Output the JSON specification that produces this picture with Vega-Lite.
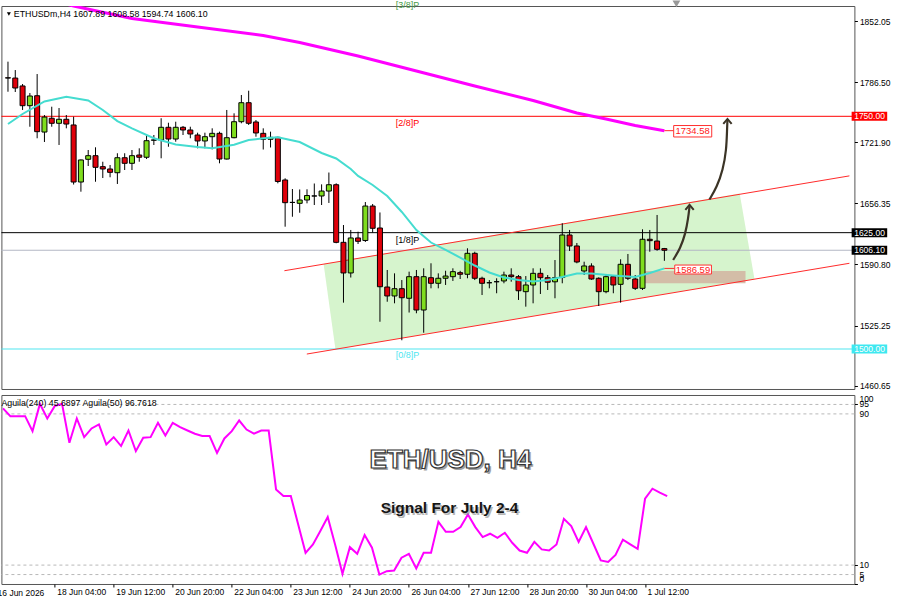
{
"$schema": "https://vega.github.io/schema/vega-lite/v6.json",
"background": "white",
"padding": {"left": -3.6, "top": 0, "right": 0, "bottom": 0},
"spacing": 3,
"config": {"view": {"stroke": "#555", "strokeWidth": 1}, "font": "Liberation Sans", "axis": {"labelFont": "Liberation Sans", "labelOverlap": false}},
"datasets": {
"candles": [
{"t":"2026-06-17T00:00Z","o":1791.4,"h":1808.7,"l":1776.4,"c":1791.1,"v":92.9},
{"t":"2026-06-17T04:00Z","o":1791.1,"h":1799.7,"l":1776.1,"c":1780.4,"v":88.8},
{"t":"2026-06-17T08:00Z","o":1782.6,"h":1784.7,"l":1756.8,"c":1761.4,"v":88.8},
{"t":"2026-06-17T12:00Z","o":1761.4,"h":1775.0,"l":1738.8,"c":1771.8,"v":88.8},
{"t":"2026-06-17T16:00Z","o":1772.1,"h":1795.4,"l":1726.4,"c":1733.5,"v":80.9},
{"t":"2026-06-17T20:00Z","o":1733.1,"h":1751.4,"l":1722.4,"c":1749.2,"v":95.3},
{"t":"2026-06-18T00:00Z","o":1747.9,"h":1760.3,"l":1738.8,"c":1742.5,"v":87.6},
{"t":"2026-06-18T04:00Z","o":1742.5,"h":1758.9,"l":1719.2,"c":1746.8,"v":94.1},
{"t":"2026-06-18T08:00Z","o":1746.8,"h":1751.4,"l":1737.1,"c":1741.7,"v":95.3},
{"t":"2026-06-18T12:00Z","o":1740.7,"h":1749.6,"l":1676.7,"c":1679.4,"v":74.7},
{"t":"2026-06-18T16:00Z","o":1679.4,"h":1703.5,"l":1669.0,"c":1703.1,"v":87.6},
{"t":"2026-06-18T20:00Z","o":1703.8,"h":1713.8,"l":1696.6,"c":1707.7,"v":77.7},
{"t":"2026-06-19T00:00Z","o":1707.7,"h":1716.7,"l":1679.7,"c":1695.2,"v":82.3},
{"t":"2026-06-19T04:00Z","o":1695.9,"h":1701.2,"l":1683.7,"c":1693.4,"v":84.4},
{"t":"2026-06-19T08:00Z","o":1693.4,"h":1697.7,"l":1684.5,"c":1689.8,"v":73.8},
{"t":"2026-06-19T12:00Z","o":1689.4,"h":1710.3,"l":1677.3,"c":1705.5,"v":77.7},
{"t":"2026-06-19T16:00Z","o":1705.5,"h":1710.3,"l":1692.3,"c":1699.5,"v":73.0},
{"t":"2026-06-19T20:00Z","o":1699.5,"h":1713.8,"l":1692.3,"c":1707.7,"v":81.2},
{"t":"2026-06-20T00:00Z","o":1708.4,"h":1715.6,"l":1701.2,"c":1706.0,"v":70.3},
{"t":"2026-06-20T04:00Z","o":1706.0,"h":1729.9,"l":1704.1,"c":1723.8,"v":77.4},
{"t":"2026-06-20T08:00Z","o":1724.3,"h":1729.9,"l":1719.2,"c":1724.6,"v":77.7},
{"t":"2026-06-20T12:00Z","o":1724.5,"h":1747.9,"l":1704.9,"c":1738.2,"v":85.3},
{"t":"2026-06-20T16:00Z","o":1738.2,"h":1743.1,"l":1717.3,"c":1725.6,"v":78.6},
{"t":"2026-06-20T20:00Z","o":1725.6,"h":1744.2,"l":1722.7,"c":1738.2,"v":85.3},
{"t":"2026-06-21T00:00Z","o":1738.2,"h":1739.6,"l":1729.9,"c":1735.3,"v":83.0},
{"t":"2026-06-21T04:00Z","o":1735.3,"h":1738.8,"l":1726.4,"c":1731.0,"v":81.2},
{"t":"2026-06-21T08:00Z","o":1729.9,"h":1732.4,"l":1715.6,"c":1723.5,"v":79.5},
{"t":"2026-06-21T12:00Z","o":1723.5,"h":1732.4,"l":1715.6,"c":1728.1,"v":78.3},
{"t":"2026-06-21T16:00Z","o":1728.1,"h":1737.1,"l":1714.5,"c":1731.7,"v":78.3},
{"t":"2026-06-21T20:00Z","o":1731.7,"h":1733.5,"l":1699.5,"c":1704.1,"v":69.4},
{"t":"2026-06-22T00:00Z","o":1704.1,"h":1756.8,"l":1703.6,"c":1727.0,"v":77.0},
{"t":"2026-06-22T04:00Z","o":1727.0,"h":1753.2,"l":1726.4,"c":1744.2,"v":80.9},
{"t":"2026-06-22T08:00Z","o":1744.2,"h":1772.9,"l":1742.5,"c":1764.6,"v":86.5},
{"t":"2026-06-22T12:00Z","o":1764.6,"h":1777.5,"l":1740.7,"c":1742.5,"v":81.7},
{"t":"2026-06-22T16:00Z","o":1743.9,"h":1746.0,"l":1728.1,"c":1732.1,"v":79.5},
{"t":"2026-06-22T20:00Z","o":1731.7,"h":1737.1,"l":1714.3,"c":1725.3,"v":81.2},
{"t":"2026-06-23T00:00Z","o":1725.3,"h":1733.5,"l":1716.5,"c":1727.4,"v":81.2},
{"t":"2026-06-23T04:00Z","o":1727.4,"h":1728.1,"l":1678.0,"c":1680.0,"v":50.0},
{"t":"2026-06-23T08:00Z","o":1681.6,"h":1683.4,"l":1631.4,"c":1657.2,"v":46.5},
{"t":"2026-06-23T12:00Z","o":1657.5,"h":1671.9,"l":1642.1,"c":1657.5,"v":46.5},
{"t":"2026-06-23T16:00Z","o":1656.5,"h":1671.4,"l":1646.4,"c":1660.1,"v":31.5},
{"t":"2026-06-23T20:00Z","o":1660.1,"h":1671.6,"l":1656.5,"c":1664.9,"v":16.5},
{"t":"2026-06-24T00:00Z","o":1664.4,"h":1677.8,"l":1654.7,"c":1664.4,"v":20.9},
{"t":"2026-06-24T04:00Z","o":1664.4,"h":1676.9,"l":1654.7,"c":1669.7,"v":28.0},
{"t":"2026-06-24T08:00Z","o":1669.7,"h":1689.6,"l":1656.9,"c":1676.5,"v":35.4},
{"t":"2026-06-24T12:00Z","o":1676.5,"h":1678.0,"l":1613.6,"c":1614.6,"v":20.9},
{"t":"2026-06-24T16:00Z","o":1614.6,"h":1633.2,"l":1549.8,"c":1581.7,"v":5.4},
{"t":"2026-06-24T20:00Z","o":1581.7,"h":1627.9,"l":1576.8,"c":1619.3,"v":19.5},
{"t":"2026-06-25T00:00Z","o":1619.3,"h":1626.0,"l":1612.8,"c":1615.7,"v":16.0},
{"t":"2026-06-25T04:00Z","o":1616.6,"h":1657.9,"l":1615.0,"c":1653.6,"v":25.9},
{"t":"2026-06-25T08:00Z","o":1653.6,"h":1655.8,"l":1625.0,"c":1629.7,"v":19.2},
{"t":"2026-06-25T12:00Z","o":1630.0,"h":1646.7,"l":1529.3,"c":1566.9,"v":5.0},
{"t":"2026-06-25T16:00Z","o":1566.6,"h":1584.9,"l":1550.8,"c":1557.0,"v":6.8},
{"t":"2026-06-25T20:00Z","o":1557.0,"h":1581.3,"l":1549.1,"c":1564.8,"v":7.1},
{"t":"2026-06-26T00:00Z","o":1564.8,"h":1574.1,"l":1509.4,"c":1555.1,"v":13.9},
{"t":"2026-06-26T04:00Z","o":1554.5,"h":1583.1,"l":1539.2,"c":1577.7,"v":16.0},
{"t":"2026-06-26T08:00Z","o":1577.7,"h":1584.9,"l":1538.4,"c":1541.9,"v":8.2},
{"t":"2026-06-26T12:00Z","o":1541.9,"h":1586.7,"l":1517.5,"c":1577.7,"v":16.5},
{"t":"2026-06-26T16:00Z","o":1576.6,"h":1592.1,"l":1565.2,"c":1570.6,"v":16.5},
{"t":"2026-06-26T20:00Z","o":1570.6,"h":1581.3,"l":1565.2,"c":1576.0,"v":32.9},
{"t":"2026-06-27T00:00Z","o":1576.0,"h":1584.1,"l":1568.8,"c":1578.4,"v":27.6},
{"t":"2026-06-27T04:00Z","o":1577.7,"h":1586.7,"l":1573.1,"c":1583.1,"v":27.6},
{"t":"2026-06-27T08:00Z","o":1582.0,"h":1584.0,"l":1575.2,"c":1580.3,"v":30.1},
{"t":"2026-06-27T12:00Z","o":1580.3,"h":1608.2,"l":1576.0,"c":1602.8,"v":36.8},
{"t":"2026-06-27T16:00Z","o":1602.8,"h":1604.5,"l":1574.1,"c":1576.0,"v":30.1},
{"t":"2026-06-27T20:00Z","o":1576.0,"h":1577.7,"l":1558.0,"c":1570.6,"v":24.8},
{"t":"2026-06-28T00:00Z","o":1571.2,"h":1574.1,"l":1565.2,"c":1571.2,"v":26.6},
{"t":"2026-06-28T04:00Z","o":1572.3,"h":1576.0,"l":1559.9,"c":1572.3,"v":24.4},
{"t":"2026-06-28T08:00Z","o":1573.1,"h":1583.1,"l":1570.6,"c":1579.5,"v":27.1},
{"t":"2026-06-28T12:00Z","o":1579.5,"h":1586.7,"l":1572.3,"c":1577.7,"v":21.8},
{"t":"2026-06-28T16:00Z","o":1577.7,"h":1579.5,"l":1552.7,"c":1562.6,"v":17.7},
{"t":"2026-06-28T20:00Z","o":1561.6,"h":1578.4,"l":1545.5,"c":1568.8,"v":16.5},
{"t":"2026-06-29T00:00Z","o":1568.8,"h":1586.7,"l":1549.1,"c":1581.3,"v":22.3},
{"t":"2026-06-29T04:00Z","o":1581.3,"h":1586.7,"l":1559.1,"c":1576.6,"v":18.3},
{"t":"2026-06-29T08:00Z","o":1576.6,"h":1579.5,"l":1563.4,"c":1571.7,"v":17.7},
{"t":"2026-06-29T12:00Z","o":1572.2,"h":1595.6,"l":1554.5,"c":1576.6,"v":20.9},
{"t":"2026-06-29T16:00Z","o":1576.8,"h":1635.1,"l":1570.6,"c":1622.5,"v":34.5},
{"t":"2026-06-29T20:00Z","o":1622.5,"h":1627.9,"l":1605.3,"c":1610.7,"v":30.6},
{"t":"2026-06-30T00:00Z","o":1610.7,"h":1613.9,"l":1592.1,"c":1593.5,"v":22.3},
{"t":"2026-06-30T04:00Z","o":1583.8,"h":1593.8,"l":1579.5,"c":1589.2,"v":30.1},
{"t":"2026-06-30T08:00Z","o":1589.2,"h":1592.1,"l":1574.3,"c":1575.2,"v":21.3},
{"t":"2026-06-30T12:00Z","o":1576.0,"h":1577.0,"l":1546.2,"c":1561.6,"v":12.5},
{"t":"2026-06-30T16:00Z","o":1561.6,"h":1579.5,"l":1559.9,"c":1577.7,"v":11.7},
{"t":"2026-06-30T20:00Z","o":1577.7,"h":1579.5,"l":1559.9,"c":1568.8,"v":15.4},
{"t":"2026-07-01T00:00Z","o":1569.5,"h":1596.4,"l":1549.8,"c":1591.0,"v":23.5},
{"t":"2026-07-01T04:00Z","o":1591.0,"h":1602.1,"l":1574.1,"c":1576.0,"v":21.0},
{"t":"2026-07-01T08:00Z","o":1575.2,"h":1579.5,"l":1563.4,"c":1565.2,"v":18.6},
{"t":"2026-07-01T12:00Z","o":1565.2,"h":1628.6,"l":1563.4,"c":1617.9,"v":45.1},
{"t":"2026-07-01T16:00Z","o":1617.9,"h":1627.9,"l":1604.5,"c":1616.4,"v":50.4},
{"t":"2026-07-01T20:00Z","o":1616.0,"h":1644.0,"l":1605.6,"c":1607.1,"v":48.3},
{"t":"2026-07-02T00:00Z","o":1607.89,"h":1608.58,"l":1594.74,"c":1606.10,"v":46.5}
],
"chan": [
{"t":"2026-06-24T05:06Z","top":1591.3,"bot":1591.3},
{"t":"2026-06-24T11:36Z","top":1593.5,"bot":1499.8},
{"t":"2026-07-03T17:18Z","top":1667.2,"bot":1572.5},
{"t":"2026-07-04T01:24Z","top":1575.2,"bot":1575.2}
],
"zone": [{"t1":"2026-07-01T13:24Z","t2":"2026-07-03T20:30Z","p1":1583.8,"p2":1570.6}],
"lev": [{"p":1750,"kind":"l2"},{"p":1625,"kind":"l1"},{"p":1606.1,"kind":"cur"},{"p":1500,"kind":"l0"}],
"chl": [
{"t":"2026-06-23T07:36Z","p":1584.1,"side":"up"},
{"t":"2026-07-06T05:28Z","p":1686.0,"side":"up"},
{"t":"2026-06-23T19:54Z","p":1494.6,"side":"dn"},
{"t":"2026-07-06T05:28Z","p":1592.1,"side":"dn"}
],
"ma": [
{"t":"2026-06-17T00:00Z","p":1741.7},{"t":"2026-06-17T08:00Z","p":1752.5},{"t":"2026-06-17T20:00Z","p":1765.9},
{"t":"2026-06-18T08:00Z","p":1770.9},{"t":"2026-06-18T20:00Z","p":1767.0},{"t":"2026-06-19T04:00Z","p":1756.8},
{"t":"2026-06-19T12:00Z","p":1744.9},{"t":"2026-06-19T20:00Z","p":1737.1},{"t":"2026-06-20T08:00Z","p":1726.4},
{"t":"2026-06-20T20:00Z","p":1719.7},{"t":"2026-06-21T08:00Z","p":1717.0},{"t":"2026-06-21T16:00Z","p":1715.6},
{"t":"2026-06-22T04:00Z","p":1719.4},{"t":"2026-06-22T12:00Z","p":1724.5},{"t":"2026-06-22T20:00Z","p":1726.4},
{"t":"2026-06-23T04:00Z","p":1727.4},{"t":"2026-06-23T16:00Z","p":1722.4},{"t":"2026-06-24T04:00Z","p":1710.6},
{"t":"2026-06-24T12:00Z","p":1704.7},{"t":"2026-06-24T20:00Z","p":1693.4},{"t":"2026-06-25T00:00Z","p":1685.9},
{"t":"2026-06-25T08:00Z","p":1676.2},{"t":"2026-06-25T16:00Z","p":1664.4},{"t":"2026-06-26T00:00Z","p":1647.2},
{"t":"2026-06-26T08:00Z","p":1627.8},{"t":"2026-06-26T16:00Z","p":1614.4},{"t":"2026-06-27T00:00Z","p":1606.4},
{"t":"2026-06-27T08:00Z","p":1598.3},{"t":"2026-06-27T16:00Z","p":1589.7},{"t":"2026-06-28T00:00Z","p":1582.2},
{"t":"2026-06-28T08:00Z","p":1576.8},{"t":"2026-06-28T16:00Z","p":1574.1},{"t":"2026-06-29T00:00Z","p":1572.5},
{"t":"2026-06-29T08:00Z","p":1574.1},{"t":"2026-06-29T16:00Z","p":1577.4},{"t":"2026-06-30T00:00Z","p":1581.1},
{"t":"2026-06-30T08:00Z","p":1581.1},{"t":"2026-06-30T20:00Z","p":1579.0},{"t":"2026-07-01T08:00Z","p":1577.4},
{"t":"2026-07-01T16:00Z","p":1581.6},{"t":"2026-07-02T00:00Z","p":1586.59}
],
"ma2": [
{"t":"2026-06-18T08:00Z","p":1870.6},{"t":"2026-06-18T12:00Z","p":1868.5},{"t":"2026-06-19T20:00Z","p":1855.1},
{"t":"2026-06-21T08:00Z","p":1845.9},{"t":"2026-06-22T20:00Z","p":1836.8},{"t":"2026-06-23T16:00Z","p":1829.3},
{"t":"2026-06-25T00:00Z","p":1814.8},{"t":"2026-06-26T08:00Z","p":1798.7},{"t":"2026-06-27T16:00Z","p":1782.6},
{"t":"2026-06-29T00:00Z","p":1767.0},{"t":"2026-06-30T00:00Z","p":1753.5},{"t":"2026-06-30T16:00Z","p":1747.1},
{"t":"2026-07-01T08:00Z","p":1740.1},{"t":"2026-07-02T00:00Z","p":1734.58}
],
"conn": [
{"t1":"2026-07-02T00:00Z","t2":"2026-07-02T05:06Z","p":1734.58},
{"t1":"2026-07-02T00:00Z","t2":"2026-07-02T05:42Z","p":1586.59}
],
"box": [
{"t1":"2026-07-02T05:06Z","t2":"2026-07-03T01:58Z","p1":1740.1,"p2":1727.8,"txt":"1734.58","tm":"2026-07-02T15:30Z","pm":1734.0},
{"t1":"2026-07-02T05:42Z","t2":"2026-07-03T01:48Z","p1":1590.2,"p2":1580.6,"txt":"1586.59","tm":"2026-07-02T15:42Z","pm":1585.4}
],
"arr": [
{"t":"2026-07-02T04:48Z","p":1595.6,"id":"a"},{"t":"2026-07-02T08:48Z","p":1608.5,"id":"a"},
{"t":"2026-07-02T11:30Z","p":1623.6,"id":"a"},{"t":"2026-07-02T13:06Z","p":1640.7,"id":"a"},
{"t":"2026-07-02T13:48Z","p":1653.6,"id":"a"},
{"t":"2026-07-03T00:42Z","p":1660.6,"id":"b"},{"t":"2026-07-03T04:48Z","p":1674.0,"id":"b"},
{"t":"2026-07-03T08:06Z","p":1692.3,"id":"b"},{"t":"2026-07-03T10:00Z","p":1713.8,"id":"b"},
{"t":"2026-07-03T10:22Z","p":1735.3,"id":"b"},{"t":"2026-07-03T10:36Z","p":1747.1,"id":"b"}
],
"ahead": [{"t":"2026-07-02T13:48Z","p":1652.6},{"t":"2026-07-03T10:36Z","p":1744.9}],
"levtxt": [
{"t":"2026-06-25T20:40Z","p":1870.1,"txt":"[3/8]P","kind":"l3"},
{"t":"2026-06-25T20:40Z","p":1742.8,"txt":"[2/8]P","kind":"l2"},
{"t":"2026-06-25T20:40Z","p":1617.2,"txt":"[1/8]P","kind":"l1"},
{"t":"2026-06-25T20:40Z","p":1493.6,"txt":"[0/8]P","kind":"l0"}
],
"badge": [
{"t1":"2026-07-06T06:42Z","t2":"2026-07-07T02:12Z","tm":"2026-07-06T16:30Z","p":1750,"lo":1745.2,"hi":1754.8,"txt":"1750.00","kind":"l2"},
{"t1":"2026-07-06T06:42Z","t2":"2026-07-07T02:12Z","tm":"2026-07-06T16:30Z","p":1625,"lo":1620.2,"hi":1629.8,"txt":"1625.00","kind":"l1"},
{"t1":"2026-07-06T06:42Z","t2":"2026-07-07T02:12Z","tm":"2026-07-06T16:30Z","p":1606.1,"lo":1601.3,"hi":1610.9,"txt":"1606.10","kind":"cur"},
{"t1":"2026-07-06T06:42Z","t2":"2026-07-07T02:12Z","tm":"2026-07-06T16:30Z","p":1500,"lo":1495.2,"hi":1504.8,"txt":"1500.00","kind":"l0"}
]
},
"vconcat": [
{
"width": 853, "height": 383,
"layer": [
{"data": {"name": "chan"}, "mark": {"type": "area", "color": "#d6f4cd"},
 "encoding": {
  "x": {"field": "t", "type": "temporal", "axis": null, "title": null, "scale": {"type": "utc", "domain": [{"year":2026,"month":6,"date":16,"hours":23,"minutes":8,"utc":true},{"year":2026,"month":7,"date":6,"hours":5,"minutes":28,"utc":true}]}},
  "y": {"field": "top", "type": "quantitative", "title": null, "scale": {"domain": [1457.04, 1868.5], "nice": false, "zero": false},
   "axis": {"orient": "right", "values": [1852.05,1819.75,1786.50,1754.20,1721.90,1688.65,1656.35,1623.10,1590.80,1558.50,1525.25,1492.95,1460.65], "format": ".2f", "domain": false, "grid": false, "ticks": true, "tickSize": 3, "tickColor": "#000", "labelFontSize": 8.5, "labelColor": "#000", "labelPadding": 2, "labelOverlap": false, "labelBound": false}},
  "y2": {"field": "bot"}}},
{"data": {"name": "zone"}, "mark": {"type": "rect", "color": "#d3b7a3", "opacity": 0.9},
 "encoding": {"x": {"field": "t1", "type": "temporal", "axis": null, "title": null}, "x2": {"field": "t2"}, "y": {"field": "p1", "type": "quantitative", "title": null}, "y2": {"field": "p2"}}},
{"data": {"name": "lev"}, "mark": {"type": "rule", "strokeWidth": 1},
 "encoding": {"y": {"field": "p", "type": "quantitative", "title": null},
  "color": {"field": "kind", "type": "nominal", "legend": null, "scale": {"domain": ["l3","l2","l1","cur","l0"], "range": ["#4a9e4a","#ff0000","#000000","#b4b8c4","#4ee6f0"]}}}},
{"data": {"name": "chl"}, "mark": {"type": "line", "color": "#ff2a2a", "strokeWidth": 1},
 "encoding": {"x": {"field": "t", "type": "temporal", "axis": null, "title": null}, "y": {"field": "p", "type": "quantitative", "title": null}, "detail": {"field": "side"}}},
{"data": {"name": "candles"}, "mark": {"type": "rule", "color": "#000", "strokeWidth": 1},
 "encoding": {"x": {"field": "t", "type": "temporal", "axis": null, "title": null}, "y": {"field": "l", "type": "quantitative", "title": null}, "y2": {"field": "h"}}},
{"data": {"name": "candles"}, "mark": {"type": "bar", "width": 5, "stroke": "#000", "strokeWidth": 1},
 "encoding": {"x": {"field": "t", "type": "temporal", "axis": null, "title": null}, "y": {"field": "o", "type": "quantitative", "title": null}, "y2": {"field": "c"},
  "color": {"condition": {"test": "datum.c >= datum.o", "value": "#7fdd1e"}, "value": "#e0000a"}}},
{"data": {"name": "ma"}, "mark": {"type": "line", "color": "#45dcd0", "strokeWidth": 2},
 "encoding": {"x": {"field": "t", "type": "temporal", "axis": null, "title": null}, "y": {"field": "p", "type": "quantitative", "title": null}}},
{"data": {"name": "ma2"}, "mark": {"type": "line", "color": "#ff00ff", "strokeWidth": 3, "clip": true},
 "encoding": {"x": {"field": "t", "type": "temporal", "axis": null, "title": null}, "y": {"field": "p", "type": "quantitative", "title": null}}},
{"data": {"name": "conn"}, "mark": {"type": "rule", "color": "#ff2a2a", "strokeWidth": 1},
 "encoding": {"x": {"field": "t1", "type": "temporal", "axis": null, "title": null}, "x2": {"field": "t2"}, "y": {"field": "p", "type": "quantitative", "title": null}}},
{"data": {"name": "box"}, "mark": {"type": "rect", "fill": "#ffffff", "stroke": "#ff3030", "strokeWidth": 1},
 "encoding": {"x": {"field": "t1", "type": "temporal", "axis": null, "title": null}, "x2": {"field": "t2"}, "y": {"field": "p1", "type": "quantitative", "title": null}, "y2": {"field": "p2"}}},
{"data": {"name": "box"}, "mark": {"type": "text", "color": "#ff2020", "fontSize": 9.5, "align": "center", "baseline": "middle"},
 "encoding": {"x": {"field": "tm", "type": "temporal", "axis": null, "title": null}, "y": {"field": "pm", "type": "quantitative", "title": null}, "text": {"field": "txt"}}},
{"data": {"name": "arr"}, "mark": {"type": "line", "color": "#3b3426", "strokeWidth": 2.2, "interpolate": "basis"},
 "encoding": {"x": {"field": "t", "type": "temporal", "axis": null, "title": null}, "y": {"field": "p", "type": "quantitative", "title": null}, "detail": {"field": "id"}}},
{"data": {"name": "ahead"}, "mark": {"type": "point", "shape": "M-1,0.7L0,-0.5L1,0.7", "filled": false, "stroke": "#3b3426", "strokeWidth": 2, "size": 70, "opacity": 1},
 "encoding": {"x": {"field": "t", "type": "temporal", "axis": null, "title": null}, "y": {"field": "p", "type": "quantitative", "title": null}}},
{"data": {"name": "levtxt"}, "mark": {"type": "text", "fontSize": 9, "align": "left", "baseline": "middle"},
 "encoding": {"x": {"field": "t", "type": "temporal", "axis": null, "title": null}, "y": {"field": "p", "type": "quantitative", "title": null}, "text": {"field": "txt"},
  "color": {"field": "kind", "type": "nominal", "legend": null, "scale": {"domain": ["l3","l2","l1","cur","l0"], "range": ["#4a9e4a","#ff0000","#000000","#b4b8c4","#4ee6f0"]}}}},
{"data": {"name": "badge"}, "mark": {"type": "rect"},
 "encoding": {"x": {"field": "t1", "type": "temporal", "axis": null, "title": null}, "x2": {"field": "t2"}, "y": {"field": "lo", "type": "quantitative", "title": null}, "y2": {"field": "hi"},
  "fill": {"field": "kind", "type": "nominal", "legend": null, "scale": {"domain": ["l2","l1","cur","l0"], "range": ["#ff0000","#000000","#000000","#3ee8f0"]}}}},
{"data": {"name": "badge"}, "mark": {"type": "text", "color": "#ffffff", "fontSize": 8.5, "align": "center", "baseline": "middle"},
 "encoding": {"x": {"field": "tm", "type": "temporal", "axis": null, "title": null}, "y": {"field": "p", "type": "quantitative", "title": null}, "text": {"field": "txt"}}},
{"data": {"values": [{"t": "2026-06-17T00:29Z", "p": 1859.9}]}, "mark": {"type": "point", "shape": "triangle-down", "filled": true, "color": "#000", "size": 16, "opacity": 1},
 "encoding": {"x": {"field": "t", "type": "temporal", "axis": null, "title": null}, "y": {"field": "p", "type": "quantitative", "title": null}}},
{"data": {"values": [{"t": "2026-07-02T06:36Z", "p": 1870.8}]}, "mark": {"type": "point", "shape": "triangle-down", "filled": true, "color": "#999999", "size": 60, "opacity": 1},
 "encoding": {"x": {"field": "t", "type": "temporal", "axis": null, "title": null}, "y": {"field": "p", "type": "quantitative", "title": null}}},
{"data": {"values": [{"t": "2026-06-17T03:12Z", "p": 1860.2, "txt": "ETHUSDm,H4  1607.89 1608.58 1594.74 1606.10"}]}, "mark": {"type": "text", "color": "#000", "fontSize": 8.8, "align": "left", "baseline": "middle"},
 "encoding": {"x": {"field": "t", "type": "temporal", "axis": null, "title": null}, "y": {"field": "p", "type": "quantitative", "title": null}, "text": {"field": "txt"}}}
]
},
{
"width": 853, "height": 189,
"layer": [
{"data": {"values": [{"v": 5}, {"v": 10}, {"v": 90}, {"v": 95}]}, "mark": {"type": "rule", "color": "#b8b8b8", "strokeDash": [3, 3], "strokeWidth": 1},
 "encoding": {"y": {"field": "v", "type": "quantitative", "title": null, "scale": {"domain": [0, 100], "nice": false, "zero": false},
   "axis": {"orient": "right", "values": [0, 5, 10, 90, 95, 100], "domain": false, "grid": false, "ticks": true, "tickSize": 3, "tickColor": "#000", "labels": false}}}},
{"data": {"name": "candles"}, "mark": {"type": "line", "color": "#ff00ff", "strokeWidth": 2},
 "encoding": {
  "x": {"field": "t", "type": "temporal", "title": null, "scale": {"type": "utc", "domain": [{"year":2026,"month":6,"date":16,"hours":23,"minutes":8,"utc":true},{"year":2026,"month":7,"date":6,"hours":5,"minutes":28,"utc":true}]},
   "axis": {"values": [
    {"year":2026,"month":6,"date":18,"hours":4,"utc":true},
    {"year":2026,"month":6,"date":19,"hours":12,"utc":true},
    {"year":2026,"month":6,"date":20,"hours":20,"utc":true},
    {"year":2026,"month":6,"date":22,"hours":4,"utc":true},
    {"year":2026,"month":6,"date":23,"hours":12,"utc":true},
    {"year":2026,"month":6,"date":24,"hours":20,"utc":true},
    {"year":2026,"month":6,"date":26,"hours":4,"utc":true},
    {"year":2026,"month":6,"date":27,"hours":12,"utc":true},
    {"year":2026,"month":6,"date":28,"hours":20,"utc":true},
    {"year":2026,"month":6,"date":30,"hours":4,"utc":true},
    {"year":2026,"month":7,"date":1,"hours":12,"utc":true}],
    "labelExpr": "utcFormat(datum.value, '%-d %b %H:%M')",
    "domain": false, "grid": false, "ticks": true, "tickSize": 3, "tickColor": "#000", "labelAlign": "left", "labelBaseline": "top", "labelPadding": 1, "labelOffset": 2, "labelFontSize": 8.5, "labelColor": "#000", "labelOverlap": false, "labelBound": false, "labelFlush": false}},
  "y": {"field": "v", "type": "quantitative", "title": null}}},
{"data": {"values": [{"t": "2026-06-16T20:00Z", "v": -4.5, "txt": "16 Jun 2026"}]}, "mark": {"type": "text", "color": "#000", "fontSize": 8.5, "align": "left", "baseline": "middle", "dx": 2},
 "encoding": {"x": {"field": "t", "type": "temporal", "title": null}, "y": {"field": "v", "type": "quantitative", "title": null}, "text": {"field": "txt"}}},
{"data": {"values": [{"t": "2026-07-06T08:12Z", "v": 95, "txt": "95"}, {"t": "2026-07-06T08:12Z", "v": 90, "txt": "90"}, {"t": "2026-07-06T08:12Z", "v": 10, "txt": "10"}, {"t": "2026-07-06T08:12Z", "v": 5, "txt": "5"}]}, "mark": {"type": "text", "color": "#000", "fontSize": 8.5, "align": "left", "baseline": "middle"},
 "encoding": {"x": {"field": "t", "type": "temporal", "title": null}, "y": {"field": "v", "type": "quantitative", "title": null}, "text": {"field": "txt"}}},
{"data": {"values": [{"t": "2026-07-06T08:12Z", "v": 100, "txt": "100"}]}, "mark": {"type": "text", "color": "#000", "fontSize": 8.5, "align": "left", "baseline": "top"},
 "encoding": {"x": {"field": "t", "type": "temporal", "title": null}, "y": {"field": "v", "type": "quantitative", "title": null}, "text": {"field": "txt"}}},
{"data": {"values": [{"t": "2026-07-06T08:12Z", "v": 0, "txt": "0"}]}, "mark": {"type": "text", "color": "#000", "fontSize": 8.5, "align": "left", "baseline": "bottom"},
 "encoding": {"x": {"field": "t", "type": "temporal", "title": null}, "y": {"field": "v", "type": "quantitative", "title": null}, "text": {"field": "txt"}}},
{"data": {"values": [{"t": "2026-06-16T23:08Z", "v": 95.8, "txt": "Aguila(240) 45.6897  Aguila(50) 96.7618"}]}, "mark": {"type": "text", "color": "#000", "fontSize": 8.8, "align": "left", "baseline": "middle"},
 "encoding": {"x": {"field": "t", "type": "temporal", "title": null}, "y": {"field": "v", "type": "quantitative", "title": null}, "text": {"field": "txt"}}},
{"data": {"values": [{"t": "2026-06-27T02:30Z", "v": 65.6, "txt": "ETH/USD, H4"}]}, "mark": {"type": "text", "color": "#666666", "opacity": 0.6, "fontSize": 26, "fontWeight": "bold", "align": "center", "baseline": "middle", "dx": 2, "dy": 2},
 "encoding": {"x": {"field": "t", "type": "temporal", "title": null}, "y": {"field": "v", "type": "quantitative", "title": null}, "text": {"field": "txt"}}},
{"data": {"values": [{"t": "2026-06-27T02:30Z", "v": 65.6, "txt": "ETH/USD, H4"}]}, "mark": {"type": "text", "fill": "#ffffff", "stroke": "#333333", "strokeWidth": 1.2, "fontSize": 26, "fontWeight": "bold", "align": "center", "baseline": "middle"},
 "encoding": {"x": {"field": "t", "type": "temporal", "title": null}, "y": {"field": "v", "type": "quantitative", "title": null}, "text": {"field": "txt"}}},
{"data": {"values": [{"t": "2026-06-27T02:00Z", "v": 40.2, "txt": "Signal For July 2-4"}]}, "mark": {"type": "text", "color": "#888888", "opacity": 0.6, "fontSize": 15.5, "fontWeight": "bold", "align": "center", "baseline": "middle", "dx": 1.5, "dy": 1.5},
 "encoding": {"x": {"field": "t", "type": "temporal", "title": null}, "y": {"field": "v", "type": "quantitative", "title": null}, "text": {"field": "txt"}}},
{"data": {"values": [{"t": "2026-06-27T02:00Z", "v": 40.2, "txt": "Signal For July 2-4"}]}, "mark": {"type": "text", "color": "#151515", "fontSize": 15.5, "fontWeight": "bold", "align": "center", "baseline": "middle"},
 "encoding": {"x": {"field": "t", "type": "temporal", "title": null}, "y": {"field": "v", "type": "quantitative", "title": null}, "text": {"field": "txt"}}}
]
}
]
}
